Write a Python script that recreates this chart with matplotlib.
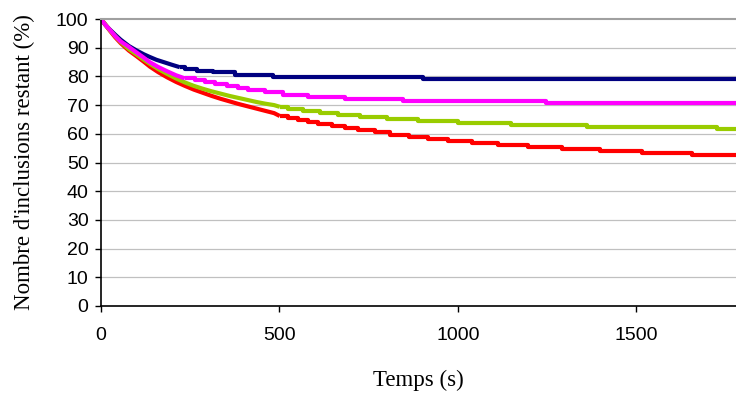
import matplotlib
matplotlib.use('Agg')
import matplotlib.pyplot as plt

# ---------------------------------------------------------------
# data (time in s, remaining inclusions in %)
# early part is a dense staircase -> drawn as a line, later part as steps
# ---------------------------------------------------------------
navy_t_early = [0, 12, 25, 40, 55, 78, 100, 120, 136, 155, 175, 200, 221]
navy_v_early = [100, 98.0, 96.3, 94.5, 92.8, 90.6, 89.0, 87.7, 86.8, 85.8, 85.0, 84.0, 83.2]
navy_t_steps = [221, 235, 269, 314, 375, 482, 903, 1779]
navy_v_steps = [83.2, 82.6, 81.9, 81.4, 80.5, 79.8, 79.1, 79.1]

magenta_t_early = [0, 12, 25, 40, 55, 78, 100, 120, 136, 160, 185, 210, 235]
magenta_v_early = [100, 98.0, 96.2, 94.0, 92.2, 90.3, 88.3, 86.5, 85.0, 83.3, 81.8, 80.4, 79.3]
magenta_t_steps = [235, 263, 291, 319, 353, 384, 412, 459, 510, 580, 683, 846, 1248, 1779]
magenta_v_steps = [79.3, 78.6, 77.9, 77.2, 76.5, 75.8, 75.1, 74.4, 73.6, 72.8, 72.1, 71.4, 70.7, 70.7]

green_t_early = [0, 12, 25, 40, 55, 78, 100, 120, 137, 160, 185, 210, 235, 260,
                 285, 310, 335, 360, 385, 410, 435, 460, 485, 501]
green_v_early = [100, 98.2, 96.0, 94.0, 92.0, 89.5, 87.6, 85.8, 84.4, 82.6, 80.9, 79.3, 77.9, 76.7,
                 75.7, 74.8, 74.0, 73.2, 72.5, 71.8, 71.1, 70.5, 70.0, 69.4]
green_t_steps = [501, 524, 566, 613, 664, 725, 801, 888, 1000, 1148, 1361, 1725, 1779]
green_v_steps = [69.4, 68.6, 67.9, 67.2, 66.6, 65.9, 65.2, 64.5, 63.8, 63.0, 62.3, 61.6, 61.6]

red_t_early = [0, 12, 25, 40, 55, 78, 100, 120, 137, 160, 185, 210, 235, 260,
               285, 310, 335, 360, 385, 410, 435, 460, 485, 501]
red_v_early = [100, 98.0, 95.9, 93.6, 91.6, 89.0, 87.0, 85.1, 83.4, 81.5, 79.7, 78.1, 76.7, 75.4,
               74.3, 73.2, 72.2, 71.3, 70.4, 69.6, 68.8, 68.0, 67.2, 66.2]
red_t_steps = [501, 524, 552, 580, 608, 647, 683, 720, 767, 810, 863, 916, 972, 1039,
               1112, 1196, 1291, 1398, 1515, 1655, 1779]
red_v_steps = [66.2, 65.5, 64.8, 64.1, 63.3, 62.6, 61.9, 61.2, 60.5, 59.7, 59.0, 58.3, 57.6, 56.8,
               56.1, 55.4, 54.7, 54.0, 53.2, 52.5, 52.5]

x_ticks = [0, 500, 1000, 1500]
y_ticks = list(range(0, 101, 10))

# ---------------------------------------------------------------
fig = plt.figure(figsize=(7.36, 3.94), dpi=100)
ax = fig.add_axes([101 / 736, 1 - 306 / 394, 1 - 101 / 736, (306 - 19) / 394])

series = [
    (navy_t_early, navy_v_early, navy_t_steps, navy_v_steps, '#000080'),
    (red_t_early, red_v_early, red_t_steps, red_v_steps, '#ff0000'),
    (green_t_early, green_v_early, green_t_steps, green_v_steps, '#99cc00'),
    (magenta_t_early, magenta_v_early, magenta_t_steps, magenta_v_steps, '#ff00ff'),
]
for te, ve, ts, vs, col in series:
    ax.plot(te, ve, color=col, lw=3.0, solid_capstyle='butt', solid_joinstyle='round')
    ax.step(ts, vs, where='post', color=col, lw=3.0, solid_capstyle='butt')

ax.set_xlim(0, 1779)
ax.set_ylim(0, 100)
ax.set_xticks(x_ticks)
ax.set_yticks(y_ticks)

# gray horizontal gridlines
for y in y_ticks[1:-1]:
    ax.axhline(y, color='#c0c0c0', lw=0.9, zorder=0)

ax.spines['right'].set_visible(False)
ax.spines['top'].set_color('#a0a0a0')
ax.spines['top'].set_linewidth(1.5)
ax.spines['left'].set_linewidth(1.2)
ax.spines['bottom'].set_linewidth(1.2)

ax.tick_params(axis='both', direction='out', length=4, width=1)
ax.tick_params(axis='x', pad=11)
ax.tick_params(axis='y', pad=5)
for lab in ax.get_xticklabels() + ax.get_yticklabels():
    lab.set_fontfamily('Liberation Sans')
    lab.set_fontsize(14)

ax.set_xlabel("Temps (s)", fontfamily='Liberation Serif', fontsize=16.5, labelpad=19)
ax.set_ylabel("Nombre d'inclusions restant (%)", fontfamily='Liberation Serif', fontsize=16.5, labelpad=15)

fig.savefig("out.png", dpi=100)
